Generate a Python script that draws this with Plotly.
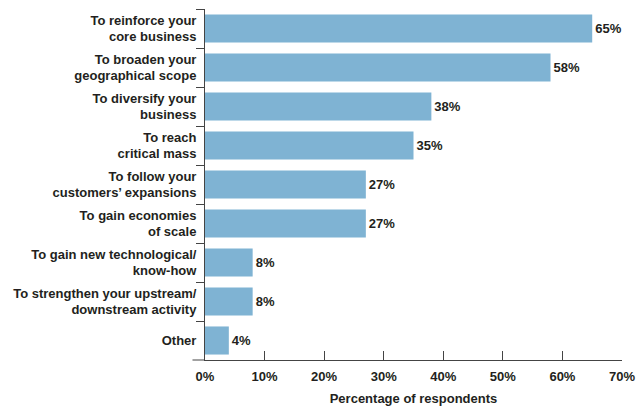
import plotly.graph_objects as go

categories = [
    "To reinforce your<br>core business",
    "To broaden your<br>geographical scope",
    "To diversify your<br>business",
    "To reach<br>critical mass",
    "To follow your<br>customers’ expansions",
    "To gain economies<br>of scale",
    "To gain new technological/<br>know-how",
    "To strengthen your upstream/<br>downstream activity",
    "Other",
]
values = [65, 58, 38, 35, 27, 27, 8, 8, 4]
value_labels = ["65%", "58%", "38%", "35%", "27%", "27%", "8%", "8%", "4%"]
x_ticks = [0, 10, 20, 30, 40, 50, 60, 70]
x_tick_labels = ["0%", "10%", "20%", "30%", "40%", "50%", "60%", "70%"]

TEXT = "#231f20"
BAR = "#7fb3d3"
AXIS = "#444444"
FONT = "Liberation Sans, Arial, sans-serif"

fig = go.Figure(
    go.Bar(
        y=categories,
        x=values,
        orientation="h",
        marker=dict(color=BAR, line=dict(width=0)),
        width=0.72,
        text=value_labels,
        textposition="outside",
        cliponaxis=False,
        textfont=dict(family=FONT, size=13, color=TEXT, weight="bold"),
    )
)

fig.update_layout(
    width=636,
    height=406,
    margin=dict(l=205, r=14, t=9, b=46),
    plot_bgcolor="white",
    paper_bgcolor="white",
    showlegend=False,
    font=dict(family=FONT, size=13, color=TEXT),
)

fig.update_yaxes(
    autorange="reversed",
    automargin=False,
    showgrid=False,
    showline=True,
    linecolor=AXIS,
    linewidth=1,
    ticks="outside",
    tickson="boundaries",
    ticklen=8,
    tickcolor=AXIS,
    ticklabelstandoff=5,
    tickfont=dict(family=FONT, size=13, color=TEXT, weight="bold"),
)

fig.update_xaxes(
    range=[0, 70],
    automargin=False,
    tickvals=x_ticks,
    ticktext=x_tick_labels,
    showgrid=False,
    zeroline=False,
    showline=True,
    linecolor=AXIS,
    linewidth=1,
    ticks="inside",
    ticklen=9,
    tickcolor=AXIS,
    ticklabelstandoff=4,
    tickfont=dict(family=FONT, size=13, color=TEXT, weight="bold"),
    title=dict(
        text="Percentage of respondents",
        font=dict(family=FONT, size=13, color=TEXT, weight="bold"),
        standoff=14,
    ),
)

# extend the baseline a little to the left of the category axis
fig.add_shape(
    type="line",
    xref="paper", yref="paper",
    x0=-0.03, x1=0, y0=0, y1=0,
    line=dict(color=AXIS, width=1),
)

fig.write_html("out.html")
